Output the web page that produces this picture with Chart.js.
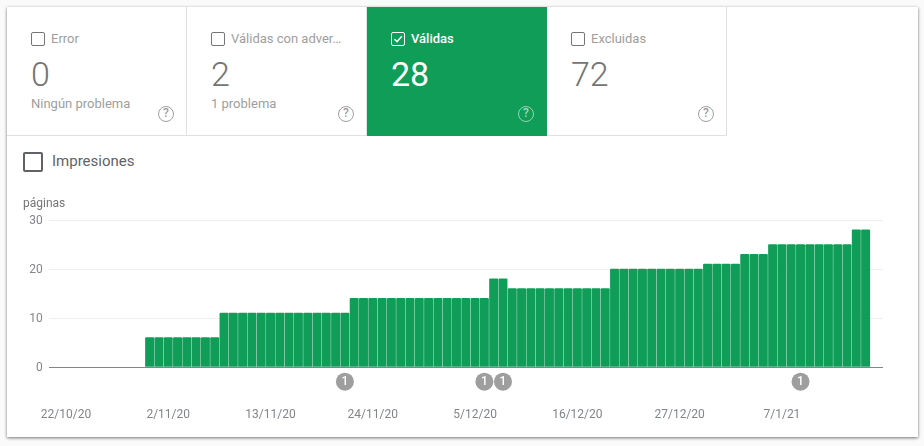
<!DOCTYPE html>
<html lang="es">
<head>
    <meta charset="UTF-8">
    <title>Cobertura</title>
    <script src="https://cdn.jsdelivr.net/npm/chart.js@4"></script>
    <style>
        html, body { margin: 0; padding: 0; width: 924px; height: 446px; overflow: hidden; background: #fafafa; font-family: Roboto, sans-serif; }
        #card { position: absolute; left: 7px; top: 7px; width: 911px; height: 430px; background: #fff; box-shadow: 0 1px 3px rgba(0,0,0,.55); }
        .tab { position: absolute; top: 7px; width: 180px; height: 129px; box-sizing: border-box; border-right: 1px solid #e0e0e0; border-bottom: 1px solid #e0e0e0; color: #9e9e9e; }
        .tab.on { background: #109d58; color: #fff; border: 0; }
        .box { position: absolute; left: 24px; top: 25px; width: 14px; height: 14px; box-sizing: border-box; border: 1px solid #757575; border-radius: 2px; }
        .on .box { border-color: #fff; }
        .box svg { position: absolute; left: 0; top: 0; }
        .name { position: absolute; left: 44px; top: 23px; font-size: 13px; line-height: 17px; white-space: nowrap; }
        .on .name { font-weight: 500; }
        .num { position: absolute; left: 24px; top: 47px; font-size: 34px; line-height: 40px; font-weight: 300; color: #757575; }
        .on .num { color: #fff; font-weight: 400; }
        .sub { position: absolute; left: 24px; top: 89px; font-size: 13px; line-height: 16px; }
        .help { position: absolute; left: 151px; top: 99px; width: 16px; height: 16px; box-sizing: border-box; border: 1.5px solid #9e9e9e; border-radius: 50%; font-size: 12px; font-weight: 500; line-height: 13px; text-align: center; color: #9e9e9e; }
        .on .help { border-color: rgba(255,255,255,.55); color: rgba(255,255,255,.6); }
        #imp-box { position: absolute; left: 23px; top: 152px; width: 20px; height: 20px; box-sizing: border-box; border: 2px solid #5f6368; border-radius: 2px; }
        #imp { position: absolute; left: 52px; top: 152px; font-size: 15px; line-height: 19px; color: #5f6368; }
        #chart { position: absolute; left: 0; top: 190px; }
    </style>
</head>
<body>
    <div id="card"></div>
    <div class="tab" style="left:7px">
        <div class="box"></div><div class="name">Error</div>
        <div class="num">0</div><div class="sub">Ningún problema</div><div class="help">?</div>
    </div>
    <div class="tab" style="left:187px">
        <div class="box"></div><div class="name">Válidas con adver…</div>
        <div class="num">2</div><div class="sub">1 problema</div><div class="help">?</div>
    </div>
    <div class="tab on" style="left:367px">
        <div class="box"><svg width="12" height="12" viewBox="0 0 12 12"><path d="M2.5 6.2 L5 8.7 L9.8 3.2" fill="none" stroke="#fff" stroke-width="1.5"/></svg></div>
        <div class="name">Válidas</div>
        <div class="num">28</div><div class="help">?</div>
    </div>
    <div class="tab" style="left:547px">
        <div class="box"></div><div class="name">Excluidas</div>
        <div class="num">72</div><div class="help">?</div>
    </div>
    <div id="imp-box"></div>
    <div id="imp">Impresiones</div>
    <canvas id="chart" width="924" height="240" style="width:924px;height:240px"></canvas>

    <script>
        // days are counted from 22/10/20
        var tickDays = [0, 11, 22, 33, 44, 55, 66, 77];
        var tickLabels = ['22/10/20', '2/11/20', '13/11/20', '24/11/20', '5/12/20', '16/12/20', '27/12/20', '7/1/21'];
        var yTicks = [0, 10, 20, 30];
        var firstBarDay = 9;
        var pages = [
            6, 6, 6, 6, 6, 6, 6, 6,
            11, 11, 11, 11, 11, 11, 11, 11, 11, 11, 11, 11, 11, 11,
            14, 14, 14, 14, 14, 14, 14, 14, 14, 14, 14, 14, 14, 14, 14,
            18, 18,
            16, 16, 16, 16, 16, 16, 16, 16, 16, 16, 16,
            20, 20, 20, 20, 20, 20, 20, 20, 20, 20,
            21, 21, 21, 21,
            23, 23, 23,
            25, 25, 25, 25, 25, 25, 25, 25, 25,
            28, 28
        ];
        var badgeDays = [30, 45, 47, 79];
        var badgeLabels = ['1', '1', '1', '1'];
        var badgeLevel = -3;

        var barPoints = pages.map(function (v, i) {
            return { x: firstBarDay + i, y: v };
        });
        var badgePoints = badgeDays.map(function (d) {
            return { x: d, y: badgeLevel };
        });

        var badgeText = {
            id: 'badgeText',
            afterDatasetsDraw: function (chart) {
                var ctx = chart.ctx;
                ctx.save();
                ctx.fillStyle = '#fff';
                ctx.font = '500 12px Roboto';
                ctx.textAlign = 'center';
                ctx.textBaseline = 'middle';
                chart.getDatasetMeta(1).data.forEach(function (el, i) {
                    ctx.fillText(badgeLabels[i], el.x, el.y);
                });
                ctx.restore();
            }
        };

        new Chart(document.getElementById('chart').getContext('2d'), {
            type: 'bar',
            plugins: [badgeText],
            data: {
                datasets: [{
                    data: barPoints,
                    backgroundColor: '#109d58',
                    barThickness: 8.3,
                    borderRadius: { topLeft: 1, topRight: 1 },
                    borderSkipped: false
                }, {
                    type: 'scatter',
                    data: badgePoints,
                    backgroundColor: '#9e9e9e',
                    borderWidth: 0,
                    pointRadius: 9,
                    clip: false
                }]
            },
            options: {
                responsive: false,
                animation: false,
                layout: { padding: { left: 23, right: 41, top: 0, bottom: 0 } },
                plugins: {
                    legend: { display: false },
                    tooltip: { enabled: false },
                    title: {
                        display: true,
                        text: 'páginas',
                        align: 'start',
                        color: '#757575',
                        font: { family: 'Roboto', size: 12, weight: 'normal' },
                        padding: { top: 6.5, bottom: 9.1 }
                    }
                },
                scales: {
                    x: {
                        type: 'linear',
                        min: -1.855,
                        max: 87.87,
                        offset: false,
                        grid: { display: false, offset: false },
                        border: { display: false },
                        afterBuildTicks: function (scale) {
                            scale.ticks = tickDays.map(function (d) { return { value: d }; });
                        },
                        afterFit: function (scale) { scale.height = 33.6; },
                        ticks: {
                            autoSkip: false,
                            maxRotation: 0,
                            padding: 3,
                            color: '#80868b',
                            font: { family: 'Roboto', size: 12 },
                            callback: function (value, i) { return tickLabels[i]; }
                        }
                    },
                    y: {
                        // below zero there is only room for the badges
                        min: -6,
                        max: 30,
                        grid: {
                            drawTicks: false,
                            color: function (c) { return c.tick.value === 0 ? '#80868b' : '#eeeeee'; }
                        },
                        border: { display: false },
                        afterBuildTicks: function (scale) {
                            scale.ticks = yTicks.map(function (v) { return { value: v }; });
                        },
                        afterFit: function (scale) { scale.width = 25.7; },
                        ticks: {
                            padding: 6,
                            labelOffset: 1,
                            color: '#80868b',
                            font: { family: 'Roboto', size: 12 }
                        }
                    }
                }
            }
        });
    </script>
</body>
</html>
